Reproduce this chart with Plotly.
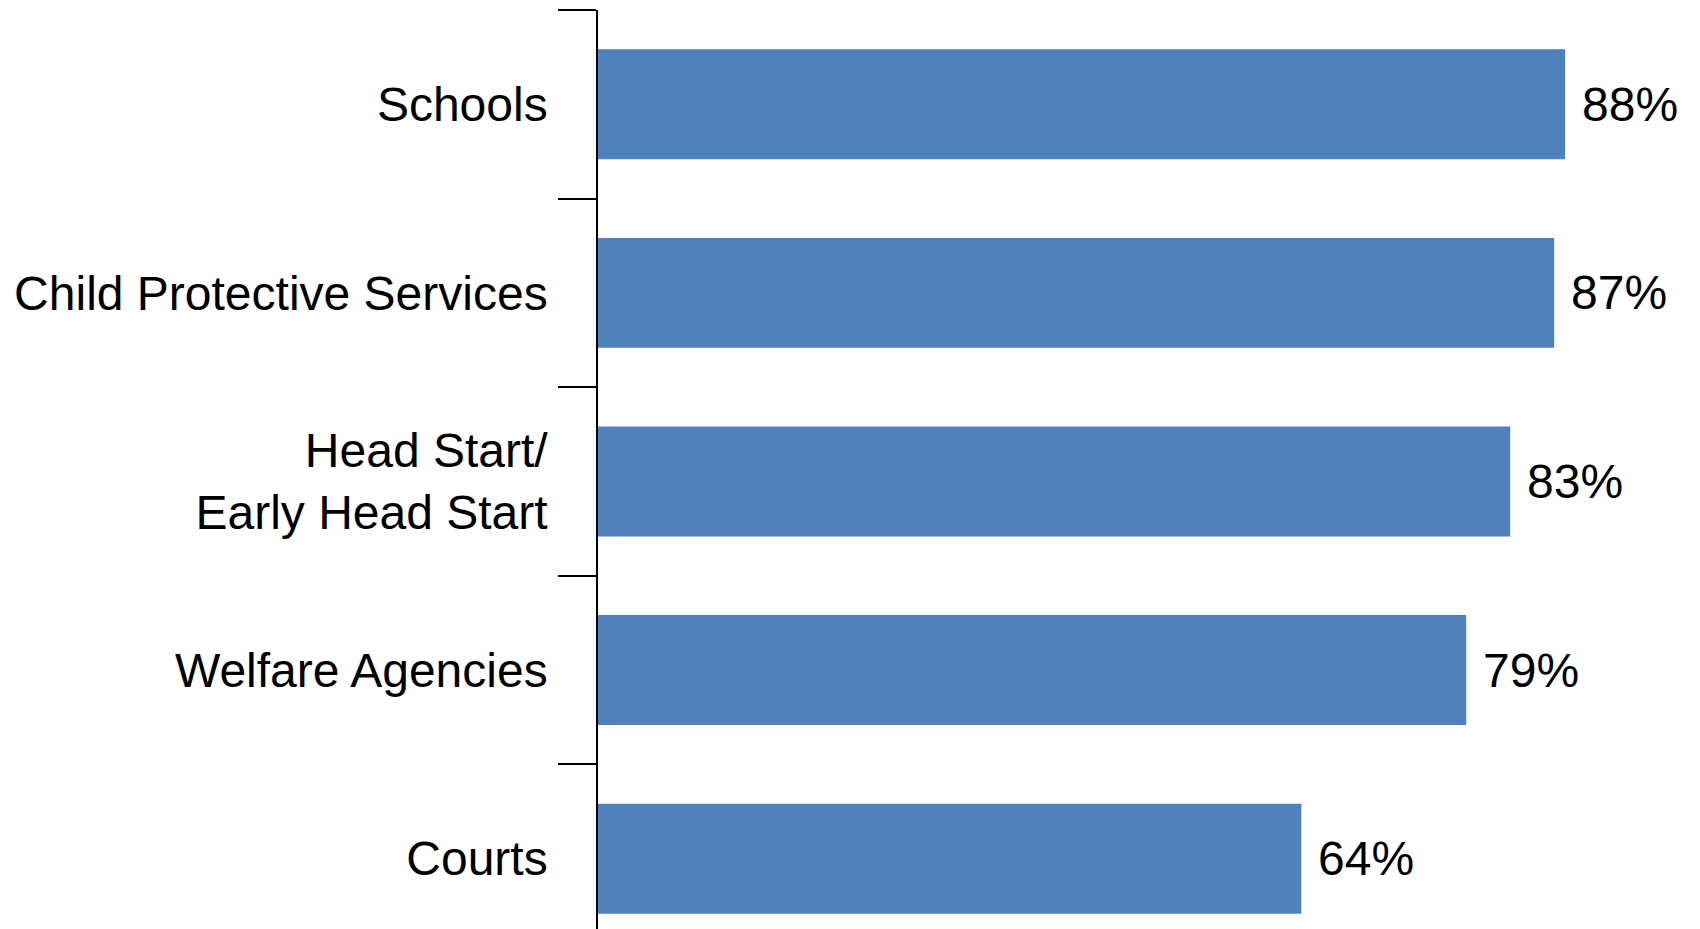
import plotly.graph_objects as go

# Share of respondents citing each partner
categories = ["Schools", "Child Protective Services", "Head Start/<br>Early Head Start",
              "Welfare Agencies", "Courts"]
values = [88, 87, 83, 79, 64]
value_labels = [f"{v}%" for v in values]

BAR_COLOR = "#4F81BD"
FONT = "Liberation Sans, Arial, sans-serif"

fig = go.Figure(
    go.Bar(
        x=values,
        y=categories,
        orientation="h",
        marker=dict(color=BAR_COLOR, line=dict(width=0)),
        width=0.583,
        hoverinfo="skip",
    )
)

for cat, v, lab in zip(categories, values, value_labels):
    fig.add_annotation(
        x=v, y=cat, text=lab, showarrow=False,
        xanchor="left", yanchor="middle", xshift=15,
        font=dict(family=FONT, size=48, color="black"),
    )

fig.update_layout(
    width=1700,
    height=929,
    margin=dict(l=598, r=0, t=10, b=0),
    paper_bgcolor="white",
    plot_bgcolor="white",
    showlegend=False,
    font=dict(family=FONT, size=48, color="black"),
    xaxis=dict(visible=False, range=[0, 100.27], fixedrange=True),
    yaxis=dict(
        type="category",
        categoryorder="array",
        categoryarray=categories,
        range=[4.373, -0.5],
        showline=True,
        linecolor="black",
        linewidth=1.5,
        ticks="outside",
        tickson="boundaries",
        ticklen=38,
        tickwidth=1.5,
        tickcolor="black",
        ticklabelstandoff=39,
        showgrid=False,
        zeroline=False,
        tickfont=dict(family=FONT, size=48, color="black"),
        fixedrange=True,
    ),
)

fig.write_html("out.html")
